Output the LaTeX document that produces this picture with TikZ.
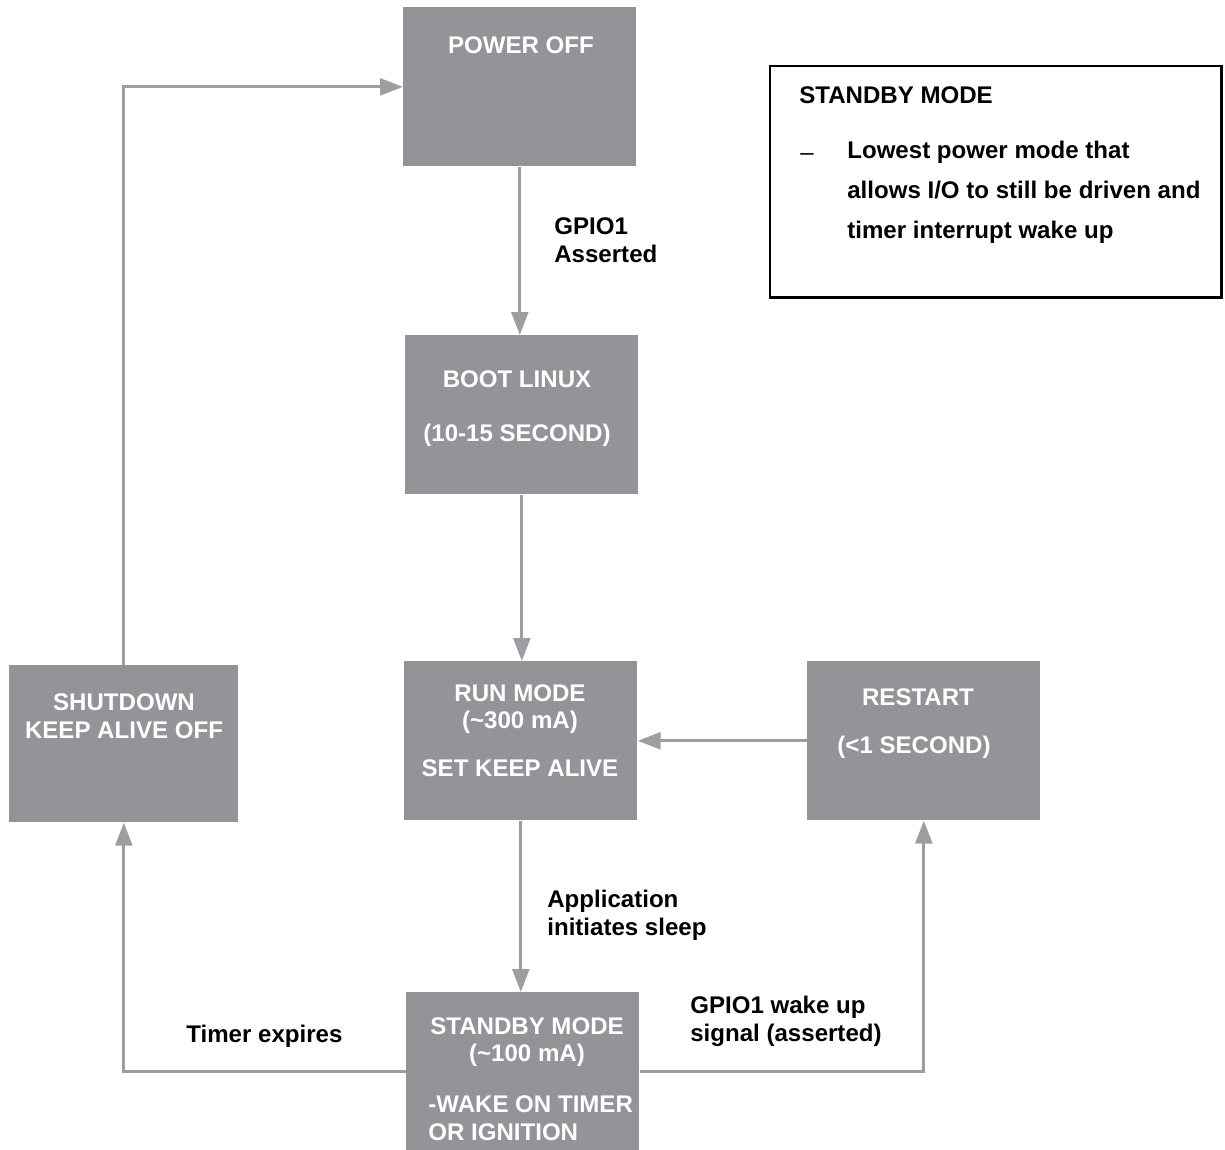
\documentclass[tikz,border=0pt]{standalone}
\usepackage{fontspec}
\setmainfont{Liberation Sans}
\usepackage{tikz}
\usetikzlibrary{positioning,arrows.meta}
\definecolor{boxgray}{RGB}{147,148,152}
\definecolor{linegray}{RGB}{158,158,162}

\begin{document}
\begin{tikzpicture}[x=0.02cm,y=-0.02cm,
  state/.style={fill=boxgray, anchor=north west, inner sep=0pt, minimum width=4.66cm, minimum height=3.18cm},
  intext/.style={text=white, font=\bfseries\fontsize{13.7}{15.8}\selectfont, align=center, inner sep=0pt},
  lbl/.style={font=\bfseries\fontsize{13.7}{15.8}\selectfont, align=left, anchor=west, inner sep=0pt},
  flow/.style={draw=linegray, line width=1.7pt, -{Triangle[length=13pt,width=9.5pt]}}]
\useasboundingbox (0,0) rectangle (1225,1150);
\node[state] (pwr) at (403,7) {};
\node[state] (boot) at (405,335) {};
\node[state] (run) at (404,661) {};
\node[state] (rst) at (807,661) {};
\node[state, minimum width=4.58cm, minimum height=3.14cm] (shut) at (9,665) {};
\node[state, minimum height=3.16cm] (stby) at (406,992) {};
\node[intext] (pwrtxt) at (521,45) {POWER OFF};
\node[intext] (boottxt) at (517,379) {BOOT LINUX};
\node[intext] (boottime) at (517,435) {(10-15 SECOND)};
\node[intext] (runtxt) at (520,709) {RUN MODE\\(\textasciitilde300 mA)};
\node[intext] (runkeep) at (520,768) {SET KEEP ALIVE};
\node[intext] (rsttxt) at (918,697) {RESTART};
\node[intext] (rsttime) at (914,747) {(<1 SECOND)};
\node[intext] (shuttxt) at (124,716) {SHUTDOWN\\KEEP ALIVE OFF};
\node[intext] (stbytxt) at (527,1042) {STANDBY MODE\\(\textasciitilde100 mA)};
\node[intext, anchor=west, align=left] (stbywake) at (428,1118) {-WAKE ON TIMER\\OR IGNITION};
\draw[flow] (pwr.south) -- (pwr.south |- boot.north);
\draw[flow] (boot.south) -- (boot.south |- run.north);
\draw[flow] (run.south) -- (run.south |- stby.north);
\draw[flow] (rst.west) -- (rst.west -| run.east);
\draw[flow] (stby.west) -| (shut.south);
\draw[flow] (stby.east) -| (rst.south);
\draw[flow] (shut.north) |- (pwr.west);
\node[lbl] (gpiolbl) at (554,240) {GPIO1\\Asserted};
\node[lbl] (applbl) at (547,915) {Application\\initiates sleep};
\node[lbl] (timerlbl) at (186,1036) {Timer expires};
\node[lbl] (wakelbl) at (690,1021) {GPIO1 wake up\\signal (asserted)};
\node[draw, line width=1.7pt, anchor=north west, inner sep=0pt, minimum width=9.04cm, minimum height=4.64cm] (note) at (768.5,64.5) {};
\node[lbl] (notehead) at (799,95) {STANDBY MODE};
\node[lbl, font=\fontsize{13.7}{15.8}\selectfont] (notedash) at (800,157) {--};
\node[lbl, font=\bfseries\fontsize{13.7}{22.7}\selectfont] (notebody) at (847,192) {Lowest power mode that\\allows I/O to still be driven and\\timer interrupt wake up};
\end{tikzpicture}
\end{document}
